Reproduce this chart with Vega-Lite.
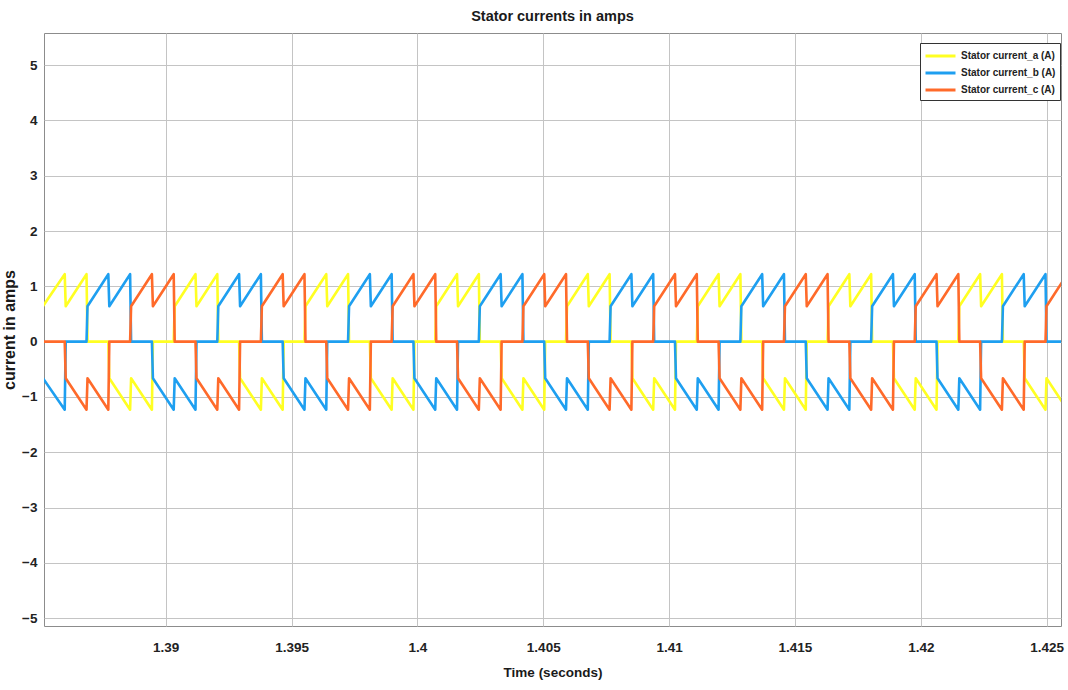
{
  "$schema": "https://vega.github.io/schema/vega-lite/v6.json",
  "width": 1017,
  "height": 593,
  "autosize": {"type": "none"},
  "padding": {"left": 44, "top": 33, "right": 7, "bottom": 64},
  "background": "white",
  "config": {
    "view": {"stroke": "#8c8c8c", "strokeWidth": 1},
    "font": "Liberation Sans"
  },
  "title": {
    "text": "Stator currents in amps",
    "fontSize": 14.5,
    "fontWeight": "bold",
    "font": "Liberation Sans",
    "color": "#1a1a1a",
    "anchor": "middle",
    "offset": 9
  },
  "data": {
    "values": [
      {"t": 1.38512, "a": 0.64, "b": -0.66, "c": 0}, {"t": 1.385986, "a": 1.22, "b": -1.23, "c": 0},
      {"t": 1.386026, "a": 0.64, "b": 0, "c": -0.66}, {"t": 1.386852, "a": 1.22, "b": 0, "c": -1.23},
      {"t": 1.386892, "a": 0, "b": 0.64, "c": -0.66}, {"t": 1.387718, "a": 0, "b": 1.22, "c": -1.23},
      {"t": 1.387758, "a": -0.66, "b": 0.64, "c": 0}, {"t": 1.388584, "a": -1.23, "b": 1.22, "c": 0},
      {"t": 1.388624, "a": -0.66, "b": 0, "c": 0.64}, {"t": 1.38945, "a": -1.23, "b": 0, "c": 1.22},
      {"t": 1.38949, "a": 0, "b": -0.66, "c": 0.64}, {"t": 1.390316, "a": 0, "b": -1.23, "c": 1.22},

      {"t": 1.390356, "a": 0.64, "b": -0.66, "c": 0}, {"t": 1.391182, "a": 1.22, "b": -1.23, "c": 0},
      {"t": 1.391222, "a": 0.64, "b": 0, "c": -0.66}, {"t": 1.392048, "a": 1.22, "b": 0, "c": -1.23},
      {"t": 1.392088, "a": 0, "b": 0.64, "c": -0.66}, {"t": 1.392914, "a": 0, "b": 1.22, "c": -1.23},
      {"t": 1.392954, "a": -0.66, "b": 0.64, "c": 0}, {"t": 1.39378, "a": -1.23, "b": 1.22, "c": 0},
      {"t": 1.39382, "a": -0.66, "b": 0, "c": 0.64}, {"t": 1.394646, "a": -1.23, "b": 0, "c": 1.22},
      {"t": 1.394686, "a": 0, "b": -0.66, "c": 0.64}, {"t": 1.395512, "a": 0, "b": -1.23, "c": 1.22},

      {"t": 1.395552, "a": 0.64, "b": -0.66, "c": 0}, {"t": 1.396378, "a": 1.22, "b": -1.23, "c": 0},
      {"t": 1.396418, "a": 0.64, "b": 0, "c": -0.66}, {"t": 1.397244, "a": 1.22, "b": 0, "c": -1.23},
      {"t": 1.397284, "a": 0, "b": 0.64, "c": -0.66}, {"t": 1.39811, "a": 0, "b": 1.22, "c": -1.23},
      {"t": 1.39815, "a": -0.66, "b": 0.64, "c": 0}, {"t": 1.398976, "a": -1.23, "b": 1.22, "c": 0},
      {"t": 1.399016, "a": -0.66, "b": 0, "c": 0.64}, {"t": 1.399842, "a": -1.23, "b": 0, "c": 1.22},
      {"t": 1.399882, "a": 0, "b": -0.66, "c": 0.64}, {"t": 1.400708, "a": 0, "b": -1.23, "c": 1.22},

      {"t": 1.400748, "a": 0.64, "b": -0.66, "c": 0}, {"t": 1.401574, "a": 1.22, "b": -1.23, "c": 0},
      {"t": 1.401614, "a": 0.64, "b": 0, "c": -0.66}, {"t": 1.40244, "a": 1.22, "b": 0, "c": -1.23},
      {"t": 1.40248, "a": 0, "b": 0.64, "c": -0.66}, {"t": 1.403306, "a": 0, "b": 1.22, "c": -1.23},
      {"t": 1.403346, "a": -0.66, "b": 0.64, "c": 0}, {"t": 1.404172, "a": -1.23, "b": 1.22, "c": 0},
      {"t": 1.404212, "a": -0.66, "b": 0, "c": 0.64}, {"t": 1.405038, "a": -1.23, "b": 0, "c": 1.22},
      {"t": 1.405078, "a": 0, "b": -0.66, "c": 0.64}, {"t": 1.405904, "a": 0, "b": -1.23, "c": 1.22},

      {"t": 1.405944, "a": 0.64, "b": -0.66, "c": 0}, {"t": 1.40677, "a": 1.22, "b": -1.23, "c": 0},
      {"t": 1.40681, "a": 0.64, "b": 0, "c": -0.66}, {"t": 1.407636, "a": 1.22, "b": 0, "c": -1.23},
      {"t": 1.407676, "a": 0, "b": 0.64, "c": -0.66}, {"t": 1.408502, "a": 0, "b": 1.22, "c": -1.23},
      {"t": 1.408542, "a": -0.66, "b": 0.64, "c": 0}, {"t": 1.409368, "a": -1.23, "b": 1.22, "c": 0},
      {"t": 1.409408, "a": -0.66, "b": 0, "c": 0.64}, {"t": 1.410234, "a": -1.23, "b": 0, "c": 1.22},
      {"t": 1.410274, "a": 0, "b": -0.66, "c": 0.64}, {"t": 1.4111, "a": 0, "b": -1.23, "c": 1.22},

      {"t": 1.41114, "a": 0.64, "b": -0.66, "c": 0}, {"t": 1.411966, "a": 1.22, "b": -1.23, "c": 0},
      {"t": 1.412006, "a": 0.64, "b": 0, "c": -0.66}, {"t": 1.412832, "a": 1.22, "b": 0, "c": -1.23},
      {"t": 1.412872, "a": 0, "b": 0.64, "c": -0.66}, {"t": 1.413698, "a": 0, "b": 1.22, "c": -1.23},
      {"t": 1.413738, "a": -0.66, "b": 0.64, "c": 0}, {"t": 1.414564, "a": -1.23, "b": 1.22, "c": 0},
      {"t": 1.414604, "a": -0.66, "b": 0, "c": 0.64}, {"t": 1.41543, "a": -1.23, "b": 0, "c": 1.22},
      {"t": 1.41547, "a": 0, "b": -0.66, "c": 0.64}, {"t": 1.416296, "a": 0, "b": -1.23, "c": 1.22},

      {"t": 1.416336, "a": 0.64, "b": -0.66, "c": 0}, {"t": 1.417162, "a": 1.22, "b": -1.23, "c": 0},
      {"t": 1.417202, "a": 0.64, "b": 0, "c": -0.66}, {"t": 1.418028, "a": 1.22, "b": 0, "c": -1.23},
      {"t": 1.418068, "a": 0, "b": 0.64, "c": -0.66}, {"t": 1.418894, "a": 0, "b": 1.22, "c": -1.23},
      {"t": 1.418934, "a": -0.66, "b": 0.64, "c": 0}, {"t": 1.41976, "a": -1.23, "b": 1.22, "c": 0},
      {"t": 1.4198, "a": -0.66, "b": 0, "c": 0.64}, {"t": 1.420626, "a": -1.23, "b": 0, "c": 1.22},
      {"t": 1.420666, "a": 0, "b": -0.66, "c": 0.64}, {"t": 1.421492, "a": 0, "b": -1.23, "c": 1.22},

      {"t": 1.421532, "a": 0.64, "b": -0.66, "c": 0}, {"t": 1.422358, "a": 1.22, "b": -1.23, "c": 0},
      {"t": 1.422398, "a": 0.64, "b": 0, "c": -0.66}, {"t": 1.423224, "a": 1.22, "b": 0, "c": -1.23},
      {"t": 1.423264, "a": 0, "b": 0.64, "c": -0.66}, {"t": 1.42409, "a": 0, "b": 1.22, "c": -1.23},
      {"t": 1.42413, "a": -0.66, "b": 0.64, "c": 0}, {"t": 1.424956, "a": -1.23, "b": 1.22, "c": 0},
      {"t": 1.424996, "a": -0.66, "b": 0, "c": 0.64}, {"t": 1.425822, "a": -1.23, "b": 0, "c": 1.22}
    ]
  },
  "transform": [{"fold": ["a", "b", "c"], "as": ["phase", "current"]}],
  "mark": {"type": "line", "strokeWidth": 2.6, "clip": true, "strokeJoin": "round"},
  "encoding": {
    "x": {
      "field": "t",
      "type": "quantitative",
      "scale": {"domain": [1.385163, 1.425572], "nice": false, "zero": false},
      "axis": {
        "values": [1.39, 1.395, 1.4, 1.405, 1.41, 1.415, 1.42, 1.425],
        "format": "~g",
        "title": "Time (seconds)",
        "grid": true,
        "gridColor": "#c4c4c4",
        "gridOpacity": 1,
        "ticks": false,
        "domain": false,
        "labelFontSize": 13.5,
        "labelFontWeight": "bold",
        "labelColor": "#222222",
        "labelPadding": 14,
        "titleFontSize": 13.5,
        "titleFontWeight": "bold",
        "titleColor": "#1a1a1a",
        "titlePadding": 12
      }
    },
    "y": {
      "field": "current",
      "type": "quantitative",
      "scale": {"domain": [-5.14, 5.58], "nice": false},
      "axis": {
        "values": [-5, -4, -3, -2, -1, 0, 1, 2, 3, 4, 5],
        "title": "current in amps",
        "grid": true,
        "gridColor": "#c4c4c4",
        "gridOpacity": 1,
        "ticks": false,
        "domain": false,
        "labelFontSize": 13.5,
        "labelFontWeight": "bold",
        "labelColor": "#222222",
        "labelPadding": 7,
        "titleFontSize": 16,
        "titleFontWeight": "bold",
        "titleColor": "#1a1a1a",
        "titlePadding": 4
      }
    },
    "color": {
      "field": "phase",
      "type": "nominal",
      "scale": {"domain": ["a", "b", "c"], "range": ["#FFFF22", "#1E9FF0", "#FF6A2A"]},
      "legend": {
        "orient": "none",
        "legendX": 876,
        "legendY": 10,
        "title": null,
        "symbolType": "M-1,0H3",
        "symbolStrokeWidth": 3,
        "symbolSize": 225,
        "labelFontSize": 10,
        "labelFontWeight": "bold",
        "labelColor": "#222222",
        "labelOffset": 19,
        "strokeColor": "#333333",
        "fillColor": "white",
        "padding": 4,
        "rowPadding": 2,
        "labelExpr": "'Stator current_' + datum.label + ' (A)'"
      }
    }
  }
}
